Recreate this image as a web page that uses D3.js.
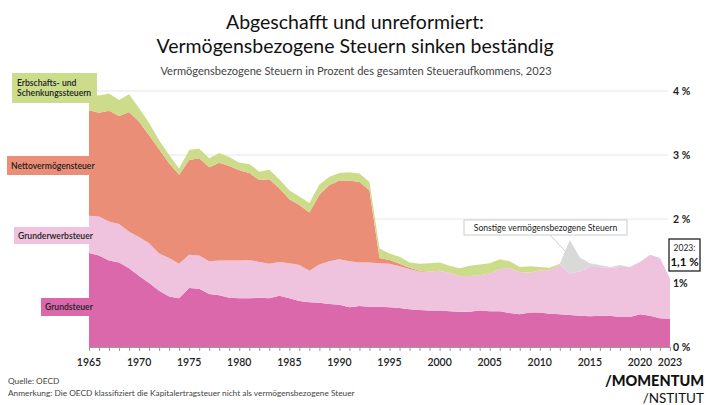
<!DOCTYPE html>
<html><head><meta charset="utf-8">
<script src="https://cdn.jsdelivr.net/npm/d3@7"></script>
<style>
html,body{margin:0;padding:0;background:#fff;}
svg{display:block;font-family:Lato,"Noto Sans",sans-serif;}
</style></head>
<body><svg id="c" width="709" height="405"></svg>
<script>
const years = d3.range(1965, 2024);
const grundsteuer = [1.47,1.43,1.35,1.32,1.23,1.11,1.00,0.88,0.79,0.76,0.92,0.91,0.83,0.81,0.77,
  0.76,0.76,0.77,0.76,0.80,0.76,0.72,0.70,0.69,0.67,0.66,0.62,0.64,0.63,0.63,
  0.62,0.61,0.59,0.58,0.57,0.57,0.56,0.55,0.55,0.57,0.56,0.56,0.53,0.51,0.54,
  0.54,0.52,0.51,0.50,0.49,0.48,0.49,0.49,0.47,0.47,0.51,0.49,0.45,0.44];
const grunderwerbsteuer = [0.58,0.61,0.61,0.60,0.57,0.61,0.62,0.58,0.60,0.54,0.52,0.52,0.51,0.54,0.58,
  0.59,0.60,0.56,0.54,0.53,0.55,0.56,0.49,0.60,0.67,0.71,0.72,0.68,0.69,0.68,
  0.68,0.65,0.63,0.60,0.61,0.62,0.60,0.56,0.56,0.55,0.59,0.66,0.70,0.66,0.62,
  0.66,0.68,0.78,0.65,0.69,0.77,0.76,0.75,0.78,0.78,0.82,0.95,0.94,0.63];
const nettovermoegensteuer = [1.65,1.62,1.73,1.69,1.87,1.80,1.69,1.63,1.48,1.39,1.48,1.52,1.47,1.53,1.48,
  1.41,1.36,1.28,1.32,1.15,1.00,0.94,0.91,1.09,1.19,1.23,1.26,1.26,1.13,0.08,
  0.06,0.04,0.02,0.01,0,0,0,0,0,0,0,0,0,0,0,
  0,0,0,0,0,0,0,0,0,0,0,0,0,0];
const erbschaftsSchenkungssteuer = [0.24,0.27,0.27,0.25,0.28,0.21,0.19,0.14,0.13,0.10,0.16,0.15,0.14,0.15,0.14,
  0.12,0.14,0.13,0.15,0.14,0.14,0.13,0.15,0.16,0.13,0.12,0.13,0.13,0.13,0.15,
  0.10,0.11,0.08,0.11,0.13,0.13,0.11,0.12,0.16,0.17,0.16,0.15,0.11,0.08,0.10,
  0.05,0.04,0.01,0,0,0,0,0,0,0,0,0,0,0];
const sonstige = [0,0,0,0,0,0,0,0,0,0,0,0,0,0,0,
  0,0,0,0,0,0,0,0,0,0,0,0,0,0,0,
  0,0,0,0,0,0,0,0,0,0,0,0,0,0,0,
  0,0,0,0.52,0.22,0.06,0.03,0.01,0.03,0,0,0,0,0];
const seriesNames = ["Grundsteuer","Grunderwerbsteuer","Nettovermögensteuer","Erbschafts- und Schenkungssteuern","Sonstige vermögensbezogene Steuern"];
const seriesColors = ["#DA68AB","#EFC2DE","#EB8E78","#CCDC8A","#D9D9D9"];
const xLabelYears = [1965,1970,1975,1980,1985,1990,1995,2000,2005,2010,2015,2020,2023];
const yTicks = [0,1,2,3,4];

const rows = years.map((yr,i)=>({year:yr, s0:grundsteuer[i], s1:grunderwerbsteuer[i], s2:nettovermoegensteuer[i], s3:erbschaftsSchenkungssteuer[i], s4:sonstige[i]}));
const keys = ["s0","s1","s2","s3","s4"];

const svg = d3.select("#c");
const x = d3.scaleLinear().domain([1965,2023]).range([89,670]);
const y = d3.scaleLinear().domain([0,4]).range([347,91]);

// title
svg.append("text").attr("x",355).attr("y",29).attr("text-anchor","middle")
  .attr("font-size",19.5).attr("fill","#111").text("Abgeschafft und unreformiert:");
svg.append("text").attr("x",355).attr("y",53).attr("text-anchor","middle")
  .attr("font-size",19.5).attr("fill","#111").text("Vermögensbezogene Steuern sinken beständig");
svg.append("text").attr("x",356).attr("y",75).attr("text-anchor","middle")
  .attr("font-size",11.1).attr("fill","#444").text("Vermögensbezogene Steuern in Prozent des gesamten Steueraufkommens, 2023");

// gridlines
svg.append("g").selectAll("line").data(yTicks.filter(d=>d>0)).join("line")
  .attr("x1",89).attr("x2",668).attr("y1",d=>y(d)).attr("y2",d=>y(d))
  .attr("stroke","#e6e6e6").attr("stroke-width",1);

// stacked areas
const stack = d3.stack().keys(keys);
const layers = stack(rows);
const area = d3.area().x(d=>x(d.data.year)).y0(d=>y(d[0])).y1(d=>y(d[1]));
svg.append("g").selectAll("path").data(layers).join("path")
  .attr("d",area).attr("fill",(d,i)=>seriesColors[i]);

// left label boxes (on top of chart)
const labels = [
  {lines:["Erbschafts- und","Schenkungssteuern"], c:3, x0:12, x1:97, y0:73, y1:103},
  {lines:["Nettovermögensteuer"], c:2, x0:7, x1:96, y0:156, y1:175},
  {lines:["Grunderwerbsteuer"], c:1, x0:14, x1:93, y0:227, y1:244},
  {lines:["Grundsteuer"], c:0, x0:41, x1:93, y0:298, y1:316}
];
labels.forEach(l=>{
  svg.append("rect").attr("x",l.x0).attr("y",l.y0).attr("width",l.x1-l.x0).attr("height",l.y1-l.y0).attr("fill",seriesColors[l.c]);
  const n=l.lines.length, cy=(l.y0+l.y1)/2;
  l.lines.forEach((t,i)=>{
    svg.append("text").attr("x",l.x0+(l.c===3?5:4)).attr("y",cy+(i-(n-1)/2)*10.5+3.2)
      .attr("font-size",8.6).attr("font-weight",600).attr("fill","#222").text(t);
  });
});

// x axis
const xAxis = d3.axisBottom(x).tickValues(years).tickSize(4).tickFormat("");
const gx = svg.append("g").attr("transform","translate(0,347)").call(xAxis);
gx.select(".domain").attr("stroke","#9a9a9a");
gx.selectAll(".tick line").attr("stroke","#9a9a9a");
svg.append("g").selectAll("text").data(xLabelYears).join("text")
  .attr("x",d=>x(d)).attr("y",366).attr("text-anchor","middle")
  .attr("font-size",10.5).attr("font-weight",600).attr("fill","#222").text(d=>d);

// right axis
const yAxis = d3.axisRight(y).tickValues(yTicks).tickSize(0).tickPadding(0)
  .tickFormat(d=>d===1?"1%":d+" %");
const gy = svg.append("g").attr("transform","translate(673,0)").call(yAxis);
gy.select(".domain").remove();
gy.selectAll("text").attr("font-size",10.5).attr("font-weight",700).attr("fill","#222")
  .attr("font-family","Lato, sans-serif");

// 2023 box
svg.append("rect").attr("x",669).attr("y",239).attr("width",31).attr("height",32)
  .attr("fill","#fff").attr("stroke","#222").attr("stroke-width",1.3);
svg.append("text").attr("x",684.5).attr("y",251).attr("text-anchor","middle")
  .attr("font-size",8.5).attr("fill","#222").text("2023:");
svg.append("text").attr("x",684.5).attr("y",266).attr("text-anchor","middle")
  .attr("font-size",11.5).attr("font-weight",700).attr("fill","#111").text("1,1 %");

// Sonstige annotation
svg.append("line").attr("x1",550).attr("y1",235).attr("x2",566).attr("y2",252)
  .attr("stroke","#cfcfcf").attr("stroke-width",1);
svg.append("rect").attr("x",464).attr("y",220).attr("width",163).attr("height",15)
  .attr("fill","#fff").attr("stroke","#cccccc").attr("stroke-width",1);
svg.append("text").attr("x",545.5).attr("y",230.6).attr("text-anchor","middle")
  .attr("font-size",8.6).attr("fill","#222").text("Sonstige vermögensbezogene Steuern");

// footer
svg.append("text").attr("x",8).attr("y",384).attr("font-size",8.3).attr("fill","#444").text("Quelle: OECD");
svg.append("text").attr("x",8).attr("y",396).attr("font-size",8.3).attr("fill","#444")
  .text("Anmerkung: Die OECD klassifiziert die Kapitalertragsteuer nicht als vermögensbezogene Steuer");
svg.append("text").attr("x",704).attr("y",386).attr("text-anchor","end")
  .attr("font-size",14.5).attr("font-weight",900).attr("fill","#111").text("/MOMENTUM");
svg.append("text").attr("x",704).attr("y",403).attr("text-anchor","end")
  .attr("font-size",13.5).attr("font-weight",400).attr("fill","#111").text("/NSTITUT");
</script></body></html>
